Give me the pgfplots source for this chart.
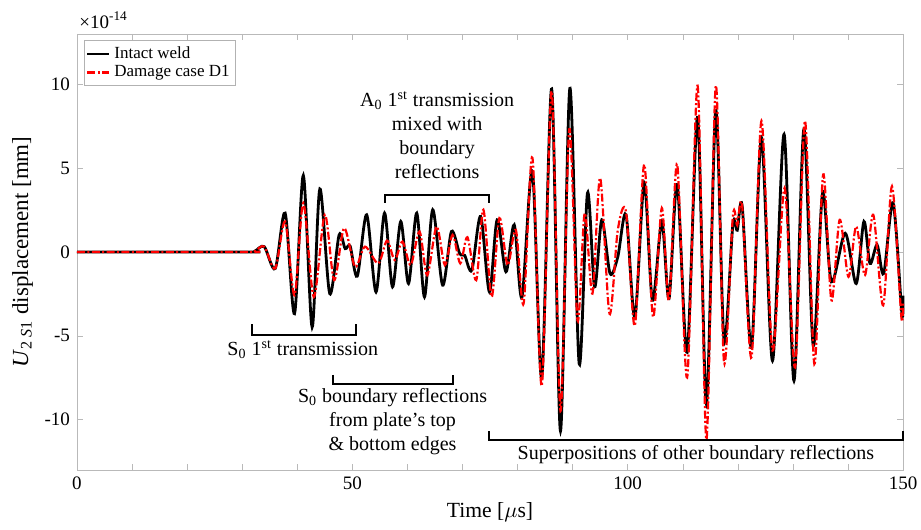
\documentclass[border=0pt]{standalone}
\usepackage{fontspec}
\setmainfont{Liberation Serif}
\usepackage{pgfplots}
\pgfplotsset{compat=1.18}

\begin{document}
\begin{tikzpicture}
\begin{axis}[
    scale only axis,
    width=413pt, height=218pt,
    xmin=0, xmax=150, ymin=-13, ymax=13,
    xtick={0,10,...,150},
    xticklabels={0,,,,,50,,,,,100,,,,,150},
    ytick={-10,-5,0,5,10},
    yticklabels={-10,-5,0,5,10},
    tick align=inside,
    major tick length=3pt,
    axis line style={gray!55},
    tick style={gray!55},
    ticklabel style={font=\fontsize{9.5}{11}\selectfont},
    xlabel={Time [$\mu$s]},
    xlabel style={at={(axis description cs:0.5,0)}, anchor=center, yshift=-21pt,
        font=\fontsize{10.8}{12}\selectfont},
    ylabel={\textit{U}\textsubscript{2 \textit{S}1} displacement [mm]},
    ylabel style={at={(axis description cs:-0.066,0.5)}, anchor=center,
        font=\fontsize{11.5}{13}\selectfont},
    legend style={at={(0.008,0.986)}, anchor=north west, draw=gray!60,
        font=\fontsize{8.5}{10}\selectfont, inner sep=1pt, row sep=-2pt,
        cells={anchor=west}},
    legend image code/.code={\draw[#1] (0cm,0cm) -- (0.38cm,0cm);},
    clip=false,
]
\addplot[black, line width=1.4pt, smooth, tension=0.5] coordinates {
(0,0) (31,0) (32.3,0.05) (34.0,0.32) (36.0,-0.98) (37.8,2.32) (39.5,-3.68)
(41.1,4.56) (42.7,-4.48) (44.1,3.76) (45.9,-2.48) (47.6,1.02) (48.7,0.2)
(49.6,0.35) (50.9,-1.44) (52.6,2.22) (54.3,-2.38) (55.85,2.32) (57.3,-2.08)
(58.8,1.82) (60.2,-1.88) (61.7,2.32) (63.1,-2.68) (64.6,2.52) (66.4,-1.98)
(68.0,1.22) (69.5,-0.1) (70.4,-0.2) (71.7,-1.08) (73.3,2.12) (74.9,-2.38)
(76.3,1.92) (77.9,-1.18) (79.4,1.62) (80.8,-2.7) (82.7,4.82) (84.4,-7.48)
(86.2,9.72) (87.8,-10.68) (89.5,9.76) (91.2,-6.68) (92.7,3.52) (94.0,-2.08)
(95.3,1.92) (96.8,-1.28) (98.2,-0.3) (99.7,2.22) (101.3,-3.88) (103.0,4.12)
(104.5,-2.88) (106.2,1.82) (107.5,-2.78) (109.0,4.02) (110.8,-5.98)
(112.7,8.02) (114.3,-9.08) (116.0,8.42) (117.5,-5.28) (119.1,1.62)
(119.9,1.3) (120.8,2.72) (122.5,-5.68) (124.3,6.82) (126.3,-6.48)
(128.4,7.02) (130.2,-7.68) (132.0,7.32) (133.7,-5.58) (135.4,3.52)
(137.0,-1.78) (139.5,1.12) (141.5,-1.88) (142.9,1.82) (144.0,-0.68)
(145.3,0.42) (146.5,-1.28) (148.2,2.92) (149.8,-3.68) (150,-2.6)
};
\addplot[red, line width=1.1pt, smooth, tension=0.5,
    dash pattern=on 4pt off 1.2pt on 1pt off 1.2pt] coordinates {
(0,0) (31,0) (32.3,0.05) (34.0,0.32) (36.0,-0.98) (37.8,1.82) (39.5,-2.58)
(41.1,2.92) (43.0,-2.68) (45.0,2.22) (46.7,-1.68) (48.5,1.42) (50.5,-0.88)
(52.3,0.32) (54.7,-0.68) (56.3,0.68) (57.7,-0.48) (59.1,0.62) (60.6,-0.78)
(62.2,1.22) (63.6,-1.38) (65.3,1.52) (66.8,-0.78) (68.2,1.02) (69.6,-0.68)
(70.9,0.88) (72.5,-1.68) (73.8,2.52) (75.3,-2.68) (76.7,2.02) (78.2,-0.78)
(79.7,1.32) (81.1,-3.08) (82.7,5.62) (84.4,-7.98) (86.2,9.6) (87.8,-9.48)
(89.4,7.32) (90.9,-4.08) (92.2,2.32) (93.6,-2.48) (95.0,4.42) (96.7,-3.68)
(98.2,1.3) (99.7,2.4) (101.3,-4.4) (103.0,5.22) (104.6,-3.88) (106.2,2.62)
(107.5,-2.9) (109.0,5.22) (110.8,-7.48) (112.7,9.92) (114.3,-11.18)
(116.0,9.92) (117.5,-6.58) (119.1,2.12) (119.9,1.6) (120.8,2.72)
(122.5,-6.28) (124.3,7.82) (126.3,-5.88) (128.5,3.82) (130.4,-6.88)
(132.2,7.82) (133.9,-6.68) (135.5,4.62) (137.0,-2.88) (138.5,1.92)
(140.1,-1.48) (141.5,1.52) (143.1,-1.38) (144.6,2.22) (146.4,-3.18)
(148.0,3.92) (149.7,-3.88) (150,-3.0)
};
\legend{Intact weld, Damage case D1}

% brackets
\draw[line width=1pt] (55.9,2.94) -- (55.9,3.42) -- (74.8,3.42) -- (74.8,2.94);
\draw[line width=1pt] (31.7,-4.32) -- (31.7,-4.94) -- (50.6,-4.94) -- (50.6,-4.32);
\draw[line width=1pt] (46.4,-7.32) -- (46.4,-7.88) -- (68.3,-7.88) -- (68.3,-7.32);
\draw[line width=1pt] (74.9,-10.68) -- (74.9,-11.24) -- (150,-11.24) -- (150,-10.68);

\begin{scope}[every node/.style={font=\fontsize{10}{12}\selectfont, align=center, inner sep=0pt}]
\node[anchor=north] at (65.4,9.6) {A\textsubscript{0} 1\textsuperscript{st} transmission\\mixed with\\boundary\\reflections};
\node at (41.0,-5.82) {S\textsubscript{0} 1\textsuperscript{st} transmission};
\node[anchor=north] at (57.3,-8.1) {S\textsubscript{0} boundary reflections\\from plate’s top\\\& bottom edges};
\node at (112.4,-12.08) {Superpositions of other boundary reflections};
\end{scope}

\node[anchor=south west, inner sep=1pt, yshift=1.5pt, font=\fontsize{9.5}{11}\selectfont]
    at (rel axis cs:0,1) {×10\textsuperscript{-14}};
\end{axis}
\pgfresetboundingbox
\path ([xshift=-38.5pt,yshift=-30pt]current axis.south west)
    rectangle ([xshift=9pt,yshift=17pt]current axis.north east);
\end{tikzpicture}
\end{document}
